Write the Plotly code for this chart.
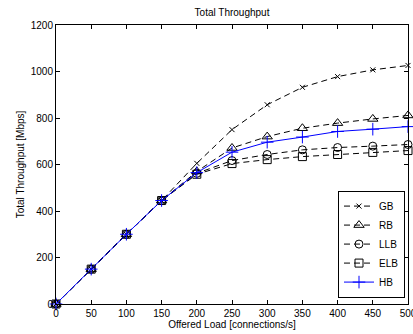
import plotly.graph_objects as go

load = [0, 50, 100, 150, 200, 250, 300, 350, 400, 450, 500]
gb = [0, 150, 300, 445, 605, 750, 857, 932, 978, 1007, 1026]
rb = [0, 150, 300, 445, 570, 671, 720, 756, 778, 796, 811]
llb = [0, 150, 300, 445, 562, 617, 643, 663, 673, 679, 686]
elb = [0, 150, 300, 445, 558, 604, 621, 634, 643, 652, 660]
hb = [0, 150, 300, 445, 565, 653, 696, 718, 742, 752, 763]

x_ticks = [0, 50, 100, 150, 200, 250, 300, 350, 400, 450, 500]
y_ticks = [0, 200, 400, 600, 800, 1000, 1200]

FONT = "Liberation Sans, Arial, sans-serif"
dash = "6px,4px"

fig = go.Figure()

def add(name, y, symbol, color, dashstyle, size):
    fig.add_trace(go.Scatter(
        x=load, y=y, name=name, mode="lines+markers",
        line=dict(color=color, width=1, dash=dashstyle),
        marker=dict(symbol=symbol, size=size, color=color,
                    line=dict(color=color, width=1)),
        cliponaxis=False,
    ))

add("GB", gb, "x-thin", "black", dash, 5)
add("RB", rb, "triangle-up-open", "black", dash, 9)
add("LLB", llb, "circle-open", "black", dash, 8)
add("ELB", elb, "square-open", "black", dash, 8)
add("HB", hb, "cross-thin", "#0000ff", "solid", 9)

axis_common = dict(
    showline=True, linecolor="black", linewidth=1, mirror="ticks",
    ticks="inside", ticklen=4, tickcolor="black", tickwidth=1,
    showgrid=False, zeroline=False, ticklabeloverflow="allow",
    automargin=False,
    tickfont=dict(family=FONT, size=10, color="black"),
)

fig.update_layout(
    width=413, height=334,
    margin=dict(l=56, r=5, t=25, b=30, autoexpand=False),
    paper_bgcolor="white", plot_bgcolor="white",
    font=dict(family=FONT, size=10, color="black"),
    title=dict(text="Total Throughput", x=0.5618, xanchor="center",
               y=0.962, yanchor="middle", font=dict(family=FONT, size=10)),
    xaxis=dict(range=[0, 500], tickvals=x_ticks,
               title=dict(text="Offered Load [connections/s]", standoff=2,
                          font=dict(family=FONT, size=10)),
               **axis_common),
    yaxis=dict(range=[0, 1200], tickvals=y_ticks,
               title=dict(text="Total Throughput [Mbps]", standoff=4,
                          font=dict(family=FONT, size=10)),
               **axis_common),
    legend=dict(x=0.9915, y=0.023, xanchor="right", yanchor="bottom",
                bgcolor="white", bordercolor="black", borderwidth=1,
                font=dict(family=FONT, size=10), tracegroupgap=0,
                itemwidth=30),
    showlegend=True,
)

fig.write_html("out.html", config={"displayModeBar": False},
               post_script="document.body.style.margin='0';")
